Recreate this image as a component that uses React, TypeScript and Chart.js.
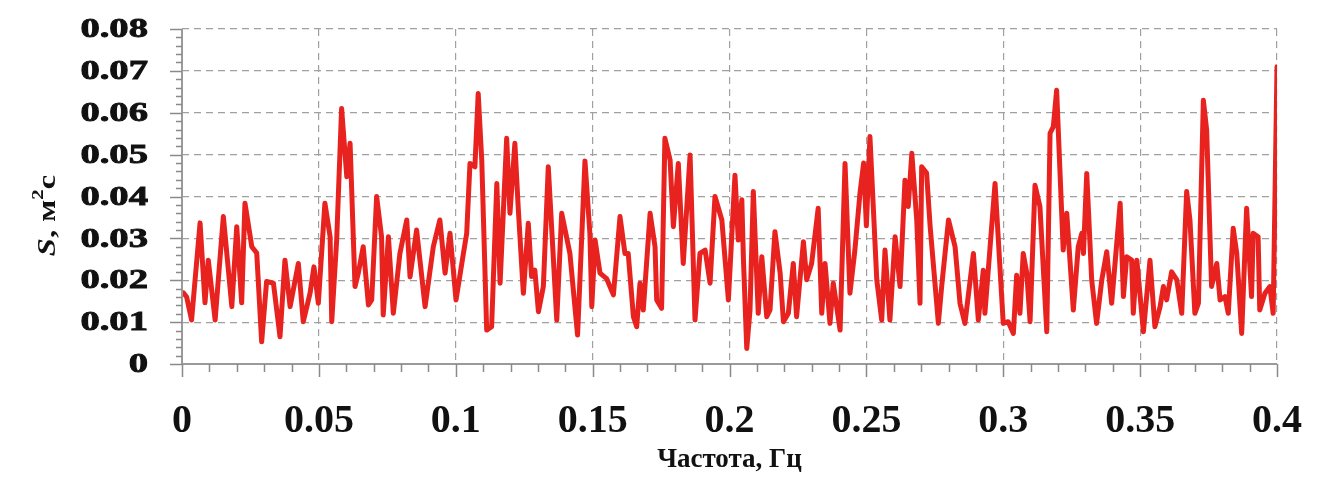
import React, { useEffect, useRef } from "react";
import { Chart, registerables } from "chart.js";

Chart.register(...registerables);

// Frequency (Hz) and spectral density S (m^2 s)
const freq = [
  0.0005, 0.0017, 0.0035, 0.0066, 0.0084, 0.0096, 0.0121, 0.0151, 0.0182, 0.02,
  0.0218, 0.023, 0.0255, 0.0273, 0.0291, 0.0309, 0.0334, 0.0358, 0.0376, 0.0395,
  0.0425, 0.0443, 0.0468, 0.0482, 0.0498, 0.0522, 0.0541, 0.0547, 0.0565, 0.0583,
  0.0602, 0.0614, 0.0632, 0.0644, 0.0662, 0.0681, 0.0693, 0.0711, 0.0729, 0.0735,
  0.0754, 0.0772, 0.0796, 0.0821, 0.0833, 0.0857, 0.0888, 0.0918, 0.0942, 0.0961,
  0.0979, 0.1001, 0.1028, 0.104, 0.1052, 0.107, 0.1082, 0.1095, 0.1113, 0.1131,
  0.115, 0.1162, 0.1186, 0.1198, 0.1216, 0.1228, 0.1247, 0.1265, 0.1277, 0.1289,
  0.1302, 0.132, 0.1338, 0.1369, 0.1387, 0.1417, 0.1445, 0.1472, 0.149, 0.1497,
  0.1509, 0.1527, 0.1551, 0.1576, 0.16, 0.1618, 0.163, 0.1649, 0.1661, 0.1673,
  0.1685, 0.171, 0.1728, 0.1734, 0.1752, 0.1764, 0.1783, 0.1795, 0.1813, 0.1831,
  0.1856, 0.1874, 0.1892, 0.1911, 0.1929, 0.1947, 0.1972, 0.1996, 0.202, 0.2032,
  0.2045, 0.2051, 0.2063, 0.2075, 0.2087, 0.2105, 0.2118, 0.2136, 0.2148, 0.2166,
  0.2185, 0.2197, 0.2215, 0.2233, 0.2245, 0.227, 0.2282, 0.23, 0.2324, 0.2337,
  0.2349, 0.2367, 0.2379, 0.2404, 0.2422, 0.244, 0.2458, 0.2477, 0.249, 0.25,
  0.2513, 0.2538, 0.2556, 0.2568, 0.2586, 0.2605, 0.2623, 0.2641, 0.2653, 0.2666,
  0.2684, 0.2696, 0.2702, 0.272, 0.2733, 0.2763, 0.2775, 0.28, 0.2824, 0.2842,
  0.286, 0.2891, 0.2909, 0.2927, 0.2933, 0.297, 0.3, 0.3018, 0.3037, 0.3049,
  0.3061, 0.3073, 0.3086, 0.3098, 0.3116, 0.3134, 0.3159, 0.3171, 0.3183, 0.3195,
  0.3207, 0.3219, 0.3232, 0.3256, 0.3274, 0.3287, 0.3293, 0.3305, 0.3323, 0.3341,
  0.336, 0.3378, 0.3396, 0.3427, 0.3439, 0.3451, 0.3469, 0.3475, 0.3488, 0.3512,
  0.3536, 0.3554, 0.3573, 0.3585, 0.3597, 0.3615, 0.3634, 0.3652, 0.367, 0.3682,
  0.37, 0.3713, 0.3731, 0.3743, 0.3761, 0.378, 0.3792, 0.381, 0.3822, 0.384,
  0.3853, 0.3871, 0.3889, 0.3907, 0.3913, 0.3931, 0.3937, 0.3956, 0.3974, 0.3986,
  0.4,
];

const spectrum = [
  0.017, 0.016, 0.0105, 0.0337, 0.0146, 0.0248, 0.0105, 0.0352, 0.0137, 0.0328,
  0.0146, 0.0384, 0.028, 0.0265, 0.0053, 0.0197, 0.0193, 0.0065, 0.0248, 0.0137,
  0.024, 0.0101, 0.017, 0.0232, 0.0145, 0.0384, 0.0304, 0.0101, 0.0296, 0.061,
  0.0447, 0.0527, 0.0185, 0.0217, 0.028, 0.0141, 0.0153, 0.04, 0.0304, 0.0117,
  0.0304, 0.0121, 0.0264, 0.0344, 0.0208, 0.032, 0.0137, 0.028, 0.0344, 0.0217,
  0.0312, 0.0153, 0.0264, 0.0312, 0.0479, 0.0471, 0.0646, 0.0487, 0.0081, 0.0089,
  0.0431, 0.0193, 0.0539, 0.036, 0.0527, 0.0376, 0.0169, 0.0336, 0.0209, 0.0224,
  0.0125, 0.0185, 0.0471, 0.0105, 0.036, 0.0264, 0.0069, 0.0485, 0.0312, 0.0137,
  0.0296, 0.0217, 0.0204, 0.0165, 0.0352, 0.0264, 0.0264, 0.0113, 0.0089, 0.0193,
  0.0129, 0.036, 0.028, 0.0153, 0.0133, 0.0539, 0.0487, 0.0328, 0.0479, 0.024,
  0.0499, 0.0105, 0.0264, 0.0272, 0.0193, 0.04, 0.0344, 0.0153, 0.0451, 0.0296,
  0.0392, 0.0248, 0.0037, 0.0129, 0.0412, 0.0121, 0.0256, 0.0113, 0.0129, 0.0316,
  0.0217, 0.0101, 0.0121, 0.024, 0.0113, 0.0292, 0.0201, 0.024, 0.0372, 0.0121,
  0.024, 0.0097, 0.0193, 0.0081, 0.0479, 0.0169, 0.0272, 0.041, 0.048, 0.033,
  0.0543, 0.0201, 0.0105, 0.0272, 0.0105, 0.0304, 0.0185, 0.0439, 0.0376, 0.0503,
  0.0344, 0.0145, 0.0471, 0.0456, 0.0328, 0.0097, 0.0185, 0.0344, 0.028, 0.0145,
  0.0097, 0.0264, 0.0105, 0.0224, 0.0121, 0.0431, 0.0097, 0.0101, 0.0073, 0.0212,
  0.0121, 0.0264, 0.0217, 0.0101, 0.0427, 0.0376, 0.0077, 0.0551, 0.0567, 0.0654,
  0.0463, 0.0272, 0.036, 0.0129, 0.028, 0.0312, 0.0264, 0.0455, 0.0201, 0.0097,
  0.0201, 0.0268, 0.0145, 0.0384, 0.0161, 0.0256, 0.0248, 0.0121, 0.0248, 0.0077,
  0.0248, 0.0089, 0.0137, 0.0185, 0.0153, 0.022, 0.0201, 0.0121, 0.0412, 0.0344,
  0.0121, 0.0145, 0.063, 0.0559, 0.0185, 0.024, 0.0153, 0.0161, 0.0121, 0.0324,
  0.0264, 0.0073, 0.0372, 0.0161, 0.0312, 0.0304, 0.0129, 0.0169, 0.0185, 0.0121,
  0.071,
];

const xTickLabels = ["0", "0.05", "0.1", "0.15", "0.2", "0.25", "0.3", "0.35", "0.4"];
const yTickLabels = ["0", "0.01", "0.02", "0.03", "0.04", "0.05", "0.06", "0.07", "0.08"];
const xTitle = "Частота, Гц";
const yTitleParts = ["S", ", м", "2", "с"];

const X_MIN = 0, X_MAX = 0.4, X_STEP = 0.05, X_MINOR = 0.01;
const Y_MIN = 0, Y_MAX = 0.08, Y_STEP = 0.01, Y_MINOR = 0.002;

const SERIF = '"Liberation Serif", "Times New Roman", serif';

const decorPlugin = {
  id: "decor",
  afterDraw(chart: any) {
    const ctx = chart.ctx as CanvasRenderingContext2D;
    const xs = chart.scales.x;
    const ys = chart.scales.y;
    const area = chart.chartArea;
    ctx.save();
    // axis lines
    ctx.strokeStyle = "#9a9a9a";
    ctx.lineWidth = 2;
    ctx.beginPath();
    ctx.moveTo(area.left, area.top);
    ctx.lineTo(area.left, area.bottom);
    ctx.lineTo(area.right, area.bottom);
    ctx.stroke();
    // ticks
    ctx.lineWidth = 1.5;
    ctx.strokeStyle = "#8a8a8a";
    ctx.beginPath();
    const nxm = Math.round((X_MAX - X_MIN) / X_MINOR);
    for (let i = 0; i <= nxm; i++) {
      const v = X_MIN + i * X_MINOR;
      const px = Math.round(xs.getPixelForValue(v)) + 0.5;
      const major = i % Math.round(X_STEP / X_MINOR) === 0;
      ctx.moveTo(px, area.bottom);
      ctx.lineTo(px, area.bottom + (major ? 13 : 8));
    }
    const nym = Math.round((Y_MAX - Y_MIN) / Y_MINOR);
    for (let i = 0; i <= nym; i++) {
      const v = Y_MIN + i * Y_MINOR;
      const py = Math.round(ys.getPixelForValue(v)) + 0.5;
      const major = i % Math.round(Y_STEP / Y_MINOR) === 0;
      ctx.moveTo(area.left, py);
      ctx.lineTo(area.left - (major ? 12 : 6), py);
    }
    ctx.stroke();

    // y tick labels (wide bold serif)
    ctx.fillStyle = "#111";
    ctx.strokeStyle = "#111";
    ctx.lineWidth = 0.9;
    ctx.font = `bold 28px ${SERIF}`;
    ctx.textAlign = "right";
    ctx.textBaseline = "middle";
    yTickLabels.forEach((lab, i) => {
      const py = ys.getPixelForValue(Y_MIN + i * Y_STEP);
      ctx.save();
      ctx.translate(148, py + 1);
      ctx.scale(1.38, 1);
      ctx.fillText(lab, 0, 0);
      ctx.strokeText(lab, 0, 0);
      ctx.restore();
    });

    // y title: italic S, м, superscript 2, с (rotated)
    const big = 25, small = 16;
    const fonts = [
      `italic bold ${big}px ${SERIF}`,
      `bold ${big}px ${SERIF}`,
      `bold ${small}px ${SERIF}`,
      `bold ${big}px ${SERIF}`,
    ];
    const widths = yTitleParts.map((t, i) => {
      ctx.font = fonts[i];
      return ctx.measureText(t).width;
    });
    const total = widths.reduce((a, b) => a + b, 0);
    const cy = (area.top + area.bottom) / 2 + 19;
    ctx.save();
    ctx.translate(55, cy);
    ctx.rotate(-Math.PI / 2);
    ctx.scale(1.3, 1);
    ctx.textAlign = "left";
    ctx.textBaseline = "alphabetic";
    let x = -total / 2;
    yTitleParts.forEach((t, i) => {
      ctx.font = fonts[i];
      ctx.fillText(t, x, i === 2 ? -12 : 0);
      x += widths[i];
    });
    ctx.restore();
    ctx.restore();
  },
};

export default function App() {
  const ref = useRef<HTMLCanvasElement | null>(null);
  useEffect(() => {
    if (!ref.current) return;
    const points = freq.map((f, i) => ({ x: f, y: spectrum[i] }));
    const chart = new Chart(ref.current, {
      type: "line",
      data: {
        datasets: [
          {
            data: points,
            borderColor: "#e8231f",
            borderWidth: 5,
            pointRadius: 0,
            tension: 0,
            borderJoinStyle: "round",
            borderCapStyle: "round",
            fill: false,
          },
        ],
      },
      options: {
        responsive: false,
        animation: false,
        layout: { padding: { top: 29, right: 62, left: 0, bottom: 0 } },
        plugins: { legend: { display: false }, tooltip: { enabled: false } },
        scales: {
          x: {
            type: "linear",
            min: X_MIN,
            max: X_MAX,
            afterFit: (s: any) => {
              s.height = 113;
            },
            afterBuildTicks: (s: any) => {
              s.ticks = xTickLabels.map((_, i) => ({ value: X_MIN + i * X_STEP }));
            },
            ticks: {
              padding: 34,
              color: "#111",
              font: { family: SERIF, size: 40, weight: "bold" },
              maxRotation: 0,
              autoSkip: false,
              callback: (_v: any, i: number) => xTickLabels[i],
            },
            grid: {
              drawTicks: false,
              color: "#a0a0a0",
              lineWidth: 1.2,
            },
            border: { display: false, dash: [7, 5] },
            title: {
              display: true,
              text: xTitle,
              color: "#111",
              font: { family: SERIF, size: 27, weight: "bold" },
              padding: { top: 0, bottom: 1 },
            },
          },
          y: {
            type: "linear",
            min: Y_MIN,
            max: Y_MAX,
            afterFit: (s: any) => {
              s.width = 182;
            },
            afterBuildTicks: (s: any) => {
              s.ticks = yTickLabels.map((_, i) => ({ value: Y_MIN + i * Y_STEP }));
            },
            ticks: { display: false },
            grid: {
              drawTicks: false,
              color: "#a0a0a0",
              lineWidth: 1.2,
            },
            border: { display: false, dash: [7, 5] },
          },
        },
      },
      plugins: [decorPlugin],
    });
    return () => chart.destroy();
  }, []);
  return (
    <div style={{ position: "fixed", left: 0, top: 0, width: 1339, height: 477, background: "#fff" }}>
      <canvas ref={ref} width={1339} height={477} style={{ display: "block" }} />
    </div>
  );
}
